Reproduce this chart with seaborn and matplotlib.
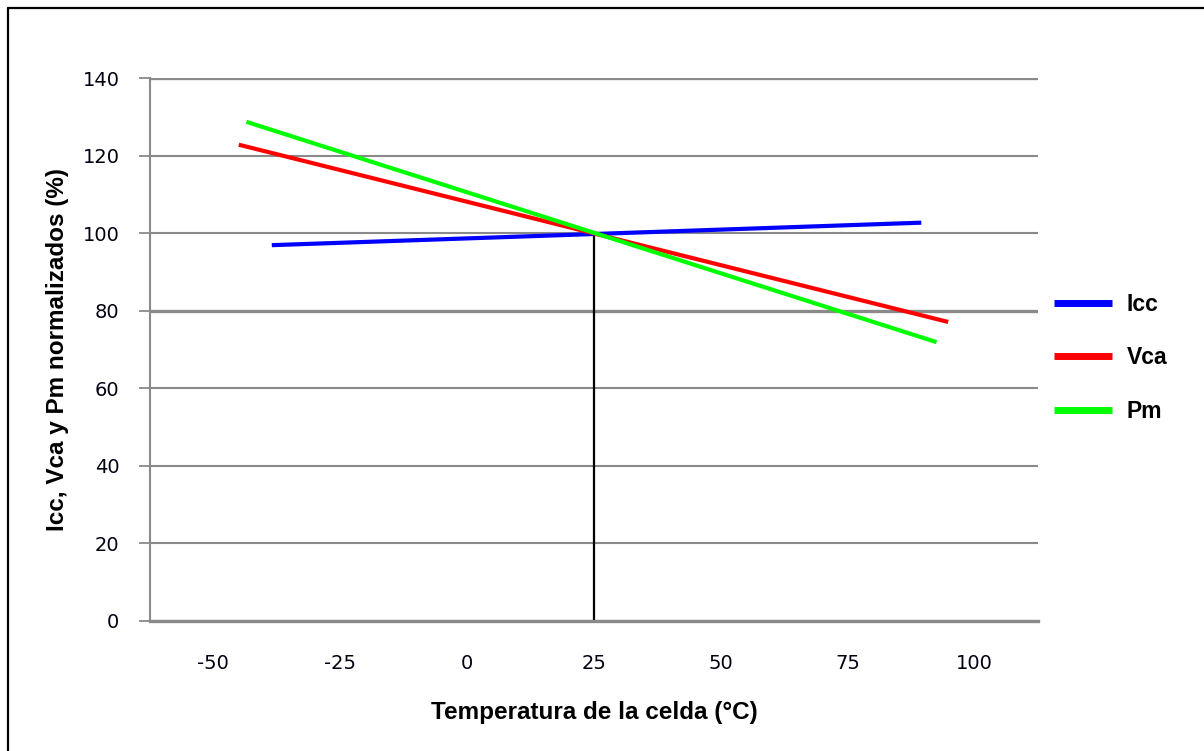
import pandas as pd
import matplotlib
matplotlib.use("Agg")
import matplotlib.pyplot as plt
from matplotlib.lines import Line2D
import seaborn as sns

# Datos (extremos de cada recta)
temp_icc = [-38.5, 89.5]
icc = [96.9, 102.7]
temp_vca = [-45.0, 94.8]
vca = [122.8, 77.1]
temp_pm = [-43.5, 92.5]
pm = [128.7, 71.9]

series = ["Icc", "Vca", "Pm"]
colores = ["#0000ff", "#ff0000", "#00ff00"]
x_ticks = [-50, -25, 0, 25, 50, 75, 100]
y_ticks = [0, 20, 40, 60, 80, 100, 120, 140]
t_ref = 25
v_ref = 100

df = pd.concat([
    pd.DataFrame({"Temperatura": temp_icc, "Valor": icc, "Serie": "Icc"}),
    pd.DataFrame({"Temperatura": temp_vca, "Valor": vca, "Serie": "Vca"}),
    pd.DataFrame({"Temperatura": temp_pm, "Valor": pm, "Serie": "Pm"}),
])

sns.set_theme(style="white")
plt.rcParams["font.family"] = ["DejaVu Sans"]

fig = plt.figure(figsize=(12.04, 7.51), dpi=100)
ax = fig.add_axes([150 / 1204, 130 / 751, 888 / 1204, 543 / 751])

gris = "#8a8a8a"
ax.set_axisbelow(True)
ax.yaxis.grid(True, color=gris, linewidth=1.5)
ax.xaxis.grid(False)

# Línea vertical de referencia a 25 °C
ax.plot([t_ref, t_ref], [0, v_ref], color="black", linewidth=1.6, zorder=2)

sns.lineplot(data=df, x="Temperatura", y="Valor", hue="Serie",
             hue_order=series, palette=dict(zip(series, colores)),
             linewidth=3, estimator=None, sort=False, ax=ax, zorder=3,
             solid_capstyle="butt")

ax.set_xlim(-62.5, 112.5)
ax.set_ylim(0, 140)
ax.set_xticks(x_ticks)
ax.set_yticks(y_ticks)
ax.set_xticklabels([str(v) for v in x_ticks], fontsize=14, color="#000010")
ax.set_yticklabels([str(v) for v in y_ticks], fontsize=14, color="#000010")

for g, v in zip(ax.get_ygridlines(), y_ticks):
    if v in (80, 140):
        g.set_linewidth(2.4)

for lado in ["top", "right"]:
    ax.spines[lado].set_visible(False)
ax.spines["left"].set_color(gris)
ax.spines["left"].set_linewidth(1.5)
ax.spines["bottom"].set_color(gris)
ax.spines["bottom"].set_linewidth(2.4)

ax.tick_params(axis="y", direction="out", length=8, width=1.3, color=gris, pad=14, left=True)
ax.tick_params(axis="x", length=0, pad=24)

ax.set_xlabel("Temperatura de la celda (°C)", fontsize=17.5, fontweight="bold",
              family=["Liberation Sans", "DejaVu Sans"], labelpad=20, color="black")
ax.set_ylabel("Icc, Vca y Pm normalizados (%)", fontsize=17.5, fontweight="bold",
              family=["Liberation Sans", "DejaVu Sans"], labelpad=10, color="black")

leg = ax.legend(loc="center left", bbox_to_anchor=(1043 / 1204, 1 - 358 / 751),
                bbox_transform=fig.transFigure, frameon=False, borderpad=0,
                handlelength=2.5, handletextpad=0.65, labelspacing=1.35,
                prop={"family": "Liberation Sans", "weight": "bold", "size": 16.5})
for h in leg.legend_handles:
    h.set_linewidth(5)
    h.set_solid_capstyle("butt")
for t in leg.get_texts():
    t.set_color("black")

# Marco del gráfico (solo lados izquierdo y superior visibles)
fig.add_artist(Line2D([7.5 / 1204, 7.5 / 1204], [0, 1 - 7.5 / 751],
                      transform=fig.transFigure, color="black", linewidth=1.6))
fig.add_artist(Line2D([7.5 / 1204, 1], [1 - 7.5 / 751, 1 - 7.5 / 751],
                      transform=fig.transFigure, color="black", linewidth=1.6))

fig.savefig("out.png", dpi=100)
